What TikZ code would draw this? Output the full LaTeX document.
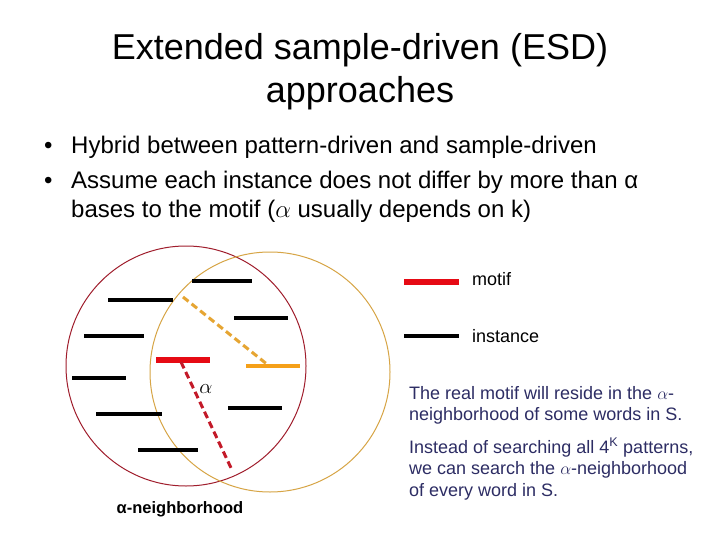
\documentclass[tikz,border=0pt]{standalone}
\usepackage{fontspec}
\setmainfont{Liberation Sans}
\definecolor{navy}{RGB}{45,45,100}
\definecolor{circred}{RGB}{160,30,45}
\definecolor{circorange}{RGB}{215,165,70}
\definecolor{motifred}{RGB}{230,10,20}
\definecolor{instorange}{RGB}{245,160,25}
\definecolor{dashred}{RGB}{195,25,40}
\definecolor{dashorange}{RGB}{230,165,50}
\tikzset{
  inst/.style={line width=4pt, black},
  motifline/.style={line width=5.5pt, motifred},
  orangeline/.style={line width=4pt, instorange},
  ring/.style={line width=1pt},
  dashlink/.style={line width=3pt, dash pattern=on 7pt off 4pt},
  titletext/.style={font=\fontsize{36}{43}\selectfont, anchor=base, inner sep=0pt},
  bullettext/.style={font=\fontsize{24}{29}\selectfont, anchor=base west, inner sep=0pt},
  legendtext/.style={font=\fontsize{18}{22}\selectfont, anchor=base west, inner sep=0pt},
  bluetext/.style={font=\fontsize{18}{22}\selectfont, text=navy, anchor=base west, inner sep=0pt},
}
\begin{document}
\begin{tikzpicture}[x=1pt,y=-1pt]
\useasboundingbox (0,0) rectangle (720,540);
\fill[white] (0,0) rectangle (720,540);
% title
\node[titletext] (t1) at (360,60) {Extended sample-driven (ESD)};
\node[titletext] (t2) at (360,103) {approaches};
% bullets
\node[bullettext] (b1) at (44,154) {•};
\node[bullettext] (l1) at (71,154) {Hybrid between pattern-driven and sample-driven};
\node[bullettext] (b2) at (44,189) {•};
\node[bullettext] (l2) at (71,189) {Assume each instance does not differ by more than α};
\node[bullettext] (l3) at (71,218) {bases to the motif ($\alpha$ usually depends on k)};
% circles
\draw[ring, circred] (186,366) circle (120);
\draw[ring, circorange] (270,372) circle (120);
% instances
\draw[inst] (192,281) -- (252,281);
\draw[inst] (108,300) -- (173,300);
\draw[inst] (234,318) -- (288,318);
\draw[inst] (84,336) -- (144,336);
\draw[inst] (72,378) -- (126,378);
\draw[inst] (96,414) -- (162,414);
\draw[inst] (228,408) -- (282,408);
\draw[inst] (138,450) -- (198,450);
% motif and orange instance
\draw[motifline] (156,360) -- (210,360);
\draw[orangeline] (246,366) -- (300,366);
% dashed links
\coordinate (od1) at (183,297);
\coordinate (od2) at (268,365);
\coordinate (rd1) at (181,362);
\coordinate (rd2) at (232,470);
\draw[dashlink, dashorange] (od1) -- (od2);
\draw[dashlink, dashred] (rd1) -- (rd2);
\node[font=\fontsize{21}{24}\selectfont, inner sep=0pt] (alpha) at (206,389) {$\alpha$};
\node[font=\fontsize{16.5}{20}\selectfont\bfseries, anchor=base, inner sep=0pt] (nb) at (180,513) {α-neighborhood};
% legend
\draw[motifline, line width=6pt] (404,282) -- (459,282);
\node[legendtext] (lm) at (472,285) {motif};
\draw[inst] (404,336) -- (459,336);
\node[legendtext] (li) at (472,342) {instance};
% blue text
\node[bluetext] (p1) at (409,399) {The real motif will reside in the $\alpha$-};
\node[bluetext] (p2) at (409,420) {neighborhood of some words in S.};
\node[bluetext] (p3) at (409,453) {Instead of searching all 4\textsuperscript{K} patterns,};
\node[bluetext] (p4) at (409,474) {we can search the $\alpha$-neighborhood};
\node[bluetext] (p5) at (409,496) {of every word in S.};
\end{tikzpicture}
\end{document}
